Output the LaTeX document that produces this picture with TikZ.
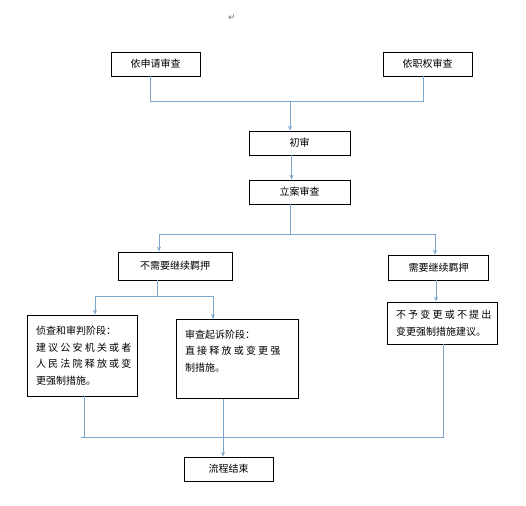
\documentclass[tikz,border=0pt]{standalone}
\usepackage{fontspec}
\setmainfont{Noto Sans CJK SC}
\newfontfamily\widecjk[LetterSpace=22]{Noto Sans CJK SC}
\newfontfamily\symfont{DejaVu Sans}
\usepackage{tikz}
\usetikzlibrary{arrows.meta, positioning, calc}
\definecolor{mylink}{RGB}{125,165,205}
\definecolor{mymark}{RGB}{110,110,110}
\newcommand{\wideline}[1]{{\widecjk #1}}
\tikzset{
  box/.style={rectangle, draw=black, fill=white, line width=0.8pt,
    minimum height=24pt, inner sep=0pt, align=center,
    font=\fontsize{10}{16.5}\selectfont},
  textbox/.style={box, align=left, inner xsep=9pt, inner ysep=8pt},
  arrow/.style={-{Stealth[length=5pt,width=4pt]}, color=mylink, line width=1pt},
  line/.style={color=mylink, line width=1pt}
}

\begin{document}
\begin{tikzpicture}[x=1pt, y=-1pt]
  \useasboundingbox (0,0) rectangle (526,505);
  \node[font=\symfont\fontsize{9}{9}\selectfont, text=mymark] (mark) at (232,18) {↵};

  \node[box, minimum width=89pt] (apply) at (155.5,64) {依申请审查};
  \node[box, minimum width=89pt] (duty) at (427.5,64) {依职权审查};
  \node[box, minimum width=101pt] (first) at (299.5,143) {初审};
  \node[box, minimum width=101pt] (case) at (299.5,192) {立案审查};
  \node[box, minimum width=114pt, minimum height=28pt] (nodet) at (175,266) {不需要继续羁押};
  \node[box, minimum width=100pt, minimum height=25pt] (det) at (438.5,267.5) {需要继续羁押};

  \node[textbox, minimum width=110pt, minimum height=81pt, text width=92pt] (trial) at (82,355.5)
    {侦查和审判阶段：\\ \wideline{建议公安机关或者}\\ \wideline{人民法院释放或变}\\ 更强制措施。};
  \node[textbox, anchor=north, minimum width=122pt, minimum height=79pt, text width=104pt] (pros) at (237,319)
    {审查起诉阶段：\\ \wideline{直接释放或变更强}\\ 制措施。\\ \mbox{}};
  \node[textbox, minimum width=110pt, minimum height=42pt, text width=92pt] (keep) at (442,323)
    {\wideline{不予变更或不提出}\\ 变更强制措施建议。};

  \node[box, minimum width=89pt] (end) at (228.5,469) {流程结束};

  \coordinate (topjoin) at (290,102);
  \draw[line] ([xshift=-5.5pt]apply.south) |- (topjoin);
  \draw[line] ([xshift=-4.5pt]duty.south) |- (topjoin);
  \draw[arrow] (topjoin) -- (topjoin |- first.north);
  \draw[arrow] ([xshift=-8pt]first.south) -- ([xshift=-8pt]case.north);

  \coordinate (split) at (290,234);
  \draw[line] ([xshift=-9.5pt]case.south) -- (split);
  \draw[arrow] (split) -| ([xshift=-16pt]nodet.north);
  \draw[arrow] (split) -| ([xshift=-3.5pt]det.north);

  \coordinate (branch) at (157,296);
  \draw[line] ([xshift=-18pt]nodet.south) -- (branch);
  \draw[arrow] (branch) -| ([xshift=13pt]trial.north);
  \draw[arrow] (branch) -| ([xshift=-24pt]pros.north);
  \draw[arrow] ([xshift=-2.5pt]det.south) -- ([xshift=-2.5pt]det.south |- keep.north);

  \coordinate (merge) at (81,437);
  \draw[line] ([xshift=1pt]keep.south) |- (merge);
  \draw[line] ([xshift=2pt]trial.south) -- ([xshift=2pt]trial.south |- merge);
  \draw[arrow] ([xshift=-14pt]pros.south) -- ([xshift=-14pt]pros.south |- end.north);
\end{tikzpicture}
\end{document}
